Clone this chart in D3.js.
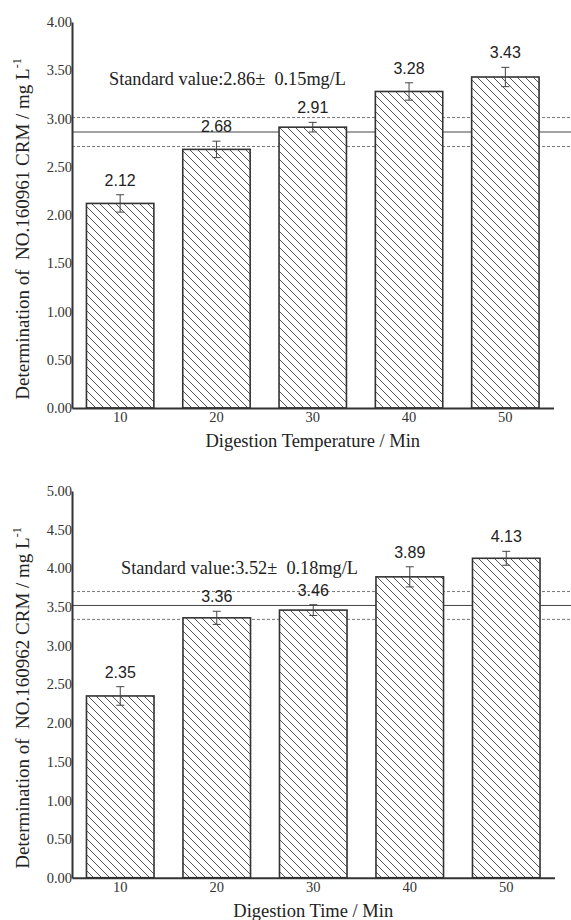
<!DOCTYPE html>
<html>
<head>
<meta charset="utf-8">
<script src="https://cdn.jsdelivr.net/npm/d3@7"></script>
<style>
  html, body { margin: 0; padding: 0; background: #ffffff; }
  svg { display: block; }
</style>
</head>
<body>
<svg id="chart" width="571" height="920"></svg>
<script>
// ---- data ----
const categories = ["10", "20", "30", "40", "50"];
const tempValues = [2.12, 2.68, 2.91, 3.28, 3.43];
const tempErrors = [0.09, 0.085, 0.05, 0.09, 0.10];
const tempTicks = [0.00, 0.50, 1.00, 1.50, 2.00, 2.50, 3.00, 3.50, 4.00];
const tempStandard = [2.86, 0.15];
const timeValues = [2.35, 3.36, 3.46, 3.89, 4.13];
const timeErrors = [0.12, 0.085, 0.07, 0.13, 0.09];
const timeTicks = [0.00, 0.50, 1.00, 1.50, 2.00, 2.50, 3.00, 3.50, 4.00, 4.50, 5.00];
const timeStandard = [3.52, 0.18];

const svg = d3.select("#chart");
const ink = "#333";
const serif = "Liberation Serif, Times New Roman, serif";

const defs = svg.append("defs");
const pat = defs.append("pattern")
  .attr("id", "hatch")
  .attr("patternUnits", "userSpaceOnUse")
  .attr("width", 8).attr("height", 8);
pat.append("rect").attr("width", 8).attr("height", 8).attr("fill", "#fff");
pat.append("path")
  .attr("d", "M-2,-2 L10,10 M-2,6 L2,10 M6,-2 L10,2")
  .attr("stroke", "#444").attr("stroke-width", 0.9).attr("fill", "none");

function drawChart(cfg) {
  const g = svg.append("g");
  const x = d3.scaleBand().domain(categories).range([cfg.x0, cfg.x1])
    .paddingInner(0.3).paddingOuter(0.15);
  const yMax = cfg.ticks[cfg.ticks.length - 1];
  const y = d3.scaleLinear().domain([0, yMax]).range([cfg.yBottom, cfg.yTop]);

  // reference lines
  const [sv, sd] = cfg.standard;
  const refs = [
    { v: sv + sd, dash: "3,2" },
    { v: sv, dash: null },
    { v: sv - sd, dash: "3,2" }
  ];
  g.selectAll("line.ref").data(refs).join("line")
    .attr("class", "ref")
    .attr("x1", cfg.x0).attr("x2", 571)
    .attr("y1", d => y(d.v)).attr("y2", d => y(d.v))
    .attr("stroke", d => d.dash ? "#555" : "#444")
    .attr("stroke-width", d => d.dash ? 0.8 : 1)
    .attr("stroke-dasharray", d => d.dash);

  // bars
  const vals = cfg.values;
  g.selectAll("rect.bar").data(vals).join("rect")
    .attr("class", "bar")
    .attr("x", (d, i) => x(categories[i]))
    .attr("width", x.bandwidth())
    .attr("y", d => y(d))
    .attr("height", d => y(0) - y(d))
    .attr("fill", "url(#hatch)")
    .attr("stroke", ink).attr("stroke-width", 1.6);

  // error bars
  const eb = g.selectAll("g.err").data(vals).join("g").attr("class", "err");
  const cx = i => x(categories[i]) + x.bandwidth() / 2;
  eb.append("line")
    .attr("x1", (d, i) => cx(i)).attr("x2", (d, i) => cx(i))
    .attr("y1", (d, i) => y(d + cfg.errors[i])).attr("y2", (d, i) => y(d - cfg.errors[i]))
    .attr("stroke", "#444").attr("stroke-width", 1);
  [1, -1].forEach(s => {
    eb.append("line")
      .attr("x1", (d, i) => cx(i) - 4).attr("x2", (d, i) => cx(i) + 4)
      .attr("y1", (d, i) => y(d + s * cfg.errors[i])).attr("y2", (d, i) => y(d + s * cfg.errors[i]))
      .attr("stroke", "#444").attr("stroke-width", 1);
  });

  // value labels
  g.selectAll("text.val").data(vals).join("text")
    .attr("class", "val")
    .attr("x", (d, i) => cx(i))
    .attr("y", (d, i) => y(d + cfg.errors[i]) - 9)
    .attr("text-anchor", "middle")
    .attr("font-family", "Liberation Sans, Arial, sans-serif")
    .attr("font-size", 16).attr("fill", "#222")
    .text(d => d.toFixed(2));

  // standard value text
  g.append("text")
    .attr("x", cfg.stdX).attr("y", y(cfg.stdTextV))
    .attr("font-family", serif)
    .attr("font-size", 18.3).attr("fill", "#222")
    .attr("xml:space", "preserve")
    .style("white-space", "pre")
    .text("Standard value:" + sv.toFixed(2) + "\u00b1  " + sd.toFixed(2) + "mg/L");

  // axes
  const yAxis = d3.axisLeft(y).tickValues(cfg.ticks).tickSize(0).tickPadding(0)
    .tickFormat(d3.format(".2f"));
  const ya = g.append("g").attr("transform", `translate(${cfg.x0},0)`).call(yAxis);
  ya.select(".domain").attr("stroke", ink).attr("stroke-width", 2);
  ya.selectAll("text").attr("font-family", serif)
    .attr("font-size", 14.5).attr("fill", "#333");

  const xAxis = d3.axisBottom(x).tickSize(0).tickPadding(4);
  const xa = g.append("g").attr("transform", `translate(0,${cfg.yBottom})`).call(xAxis);
  xa.select(".domain").attr("stroke", ink).attr("stroke-width", 2);
  xa.selectAll("text").attr("font-family", serif)
    .attr("font-size", 14.5).attr("fill", "#333");

  // axis titles
  g.append("text")
    .attr("x", (cfg.x0 + cfg.x1) / 2).attr("y", cfg.yBottom + 39)
    .attr("text-anchor", "middle")
    .attr("font-family", serif)
    .attr("font-size", 18.5).attr("fill", "#222")
    .text(cfg.xTitle);

  const yt = g.append("text")
    .attr("transform", `translate(29,${cfg.yLabelC}) rotate(-90)`)
    .attr("text-anchor", "middle")
    .attr("font-family", serif)
    .attr("font-size", 19).attr("fill", "#222")
    .attr("xml:space", "preserve")
    .style("white-space", "pre");
  yt.append("tspan").text(cfg.yTitle + " / mg L");
  yt.append("tspan").attr("dy", -8).attr("font-size", 12).text("-1");
}

drawChart({
  values: tempValues, errors: tempErrors, ticks: tempTicks, standard: tempStandard,
  x0: 72, x1: 553.5, yTop: 22, yBottom: 408, stdX: 109, stdTextV: 3.35,
  xTitle: "Digestion Temperature / Min",
  yTitle: "Determination of  NO.160961 CRM", yLabelC: 229
});
drawChart({
  values: timeValues, errors: timeErrors, ticks: timeTicks, standard: timeStandard,
  x0: 72, x1: 554.5, yTop: 491, yBottom: 877.7, stdX: 121, stdTextV: 3.93,
  xTitle: "Digestion Time / Min",
  yTitle: "Determination of  NO.160962 CRM", yLabelC: 698
});
</script>
</body>
</html>
